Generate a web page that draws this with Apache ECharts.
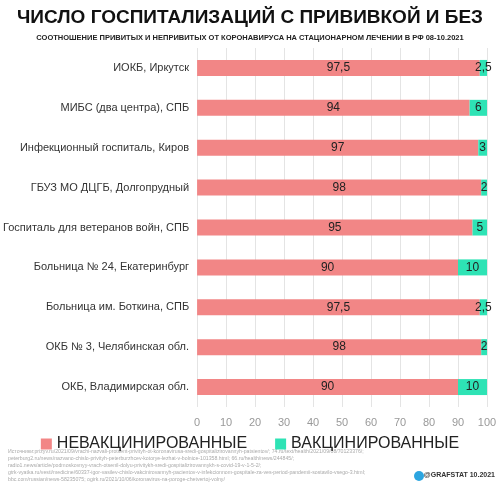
<!DOCTYPE html><html><head><meta charset="utf-8"><script src="https://cdn.jsdelivr.net/npm/echarts@6/dist/echarts.min.js"></script></head><body style="margin:0"><div id="c" style="width:500px;height:485px"></div><script>
const categories=["ИОКБ, Иркутск","МИБС (два центра), СПБ","Инфекционный госпиталь, Киров","ГБУЗ МО ДЦГБ, Долгопрудный","Госпиталь для ветеранов войн, СПБ","Больница № 24, Екатеринбург","Больница им. Боткина, СПБ","ОКБ № 3, Челябинская обл.","ОКБ, Владимирская обл."];
const unvax=[97.5,94,97,98,95,90,97.5,98,90];
const vax=[2.5,6,3,2,5,10,2.5,2,10];
const unvaxLabels=["97,5","94","97","98","95","90","97,5","98","90"];
const vaxLabels=["2,5","6","3","2","5","10","2,5","2","10"];
const sources=["Источники:prizyv.ru/2021/09/vrachi-nazvali-protsent-privityh-ot-koronavirusa-sredi-gospitalizirovannyh-patsientov/; 74.ru/text/health/2021/09/08/70123376/;","peterburg2.ru/news/nazvano-chislo-privityh-peterburzhcev-kotorye-lezhat-v-bolnice-101358.html; 66.ru/health/news/244845/;","radio1.news/article/podmoskovnyy-vrach-otsenil-dolyu-privitykh-sredi-gospitalizirovannykh-s-covid-19-v-1-5-2/;","gtrk-vyatka.ru/vesti/medicine/60337-igor-vasilev-chislo-vakcinirovannyh-pacientov-v-infekcionnom-gospitale-za-ves-period-pandemii-sostavilo-vsego-3.html;","bbc.com/russian/news-58235075; ogirk.ru/2021/10/06/koronavirus-na-poroge-chetvertoj-volny/"];
const ch=echarts.init(document.getElementById('c'));
const F='"Liberation Sans", Arial, sans-serif';
ch.setOption({
animation:false,backgroundColor:'#fff',
title:[{text:'ЧИСЛО ГОСПИТАЛИЗАЦИЙ С ПРИВИВКОЙ И БЕЗ',left:'center',top:3,textStyle:{fontSize:19,fontWeight:'bold',color:'#111',fontFamily:F}},
{text:'СООТНОШЕНИЕ ПРИВИТЫХ И НЕПРИВИТЫХ ОТ КОРОНАВИРУСА НА СТАЦИОНАРНОМ ЛЕЧЕНИИ В РФ 08-10.2021',left:'center',top:29,textStyle:{fontSize:7.5,fontWeight:'bold',color:'#222',fontFamily:F}}],
legend:{top:431,left:'center',itemWidth:11,itemHeight:11,itemGap:28,textStyle:{fontSize:16,color:'#222',fontFamily:F},icon:'rect'},
grid:{left:197,right:13,top:48,bottom:78},
xAxis:{type:'value',min:0,max:100,interval:10,axisLine:{show:false},axisTick:{show:false},splitLine:{lineStyle:{color:'#e4e4e4'}},axisLabel:{color:'#999',fontSize:11,margin:10}},
yAxis:{type:'category',data:categories,inverse:true,axisLine:{show:false},axisTick:{show:false},axisLabel:{color:'#333',fontSize:11,margin:8}},
series:[{name:'НЕВАКЦИНИРОВАННЫЕ',type:'bar',stack:'a',data:unvax,barWidth:16,itemStyle:{color:'#f28686'},label:{show:true,position:'inside',fontSize:12,color:'#222',formatter:p=>unvaxLabels[p.dataIndex]}},
{name:'ВАКЦИНИРОВАННЫЕ',type:'bar',stack:'a',data:vax,barWidth:16,itemStyle:{color:'#2ee3b5'},label:{show:true,position:'inside',fontSize:12,color:'#222',formatter:p=>vaxLabels[p.dataIndex]}}],
graphic:[{type:'text',left:8,top:448,style:{text:sources.join('\n'),fontSize:5.2,lineHeight:7,fill:'#aaa'}},
{type:'circle',shape:{cx:419,cy:476,r:5},style:{fill:'#2ca5e0'}},
{type:'text',right:5,top:472,style:{text:'@GRAFSTAT 10.2021',fontSize:7,fontWeight:'bold',fill:'#333'}}]
});
</script></body></html>
